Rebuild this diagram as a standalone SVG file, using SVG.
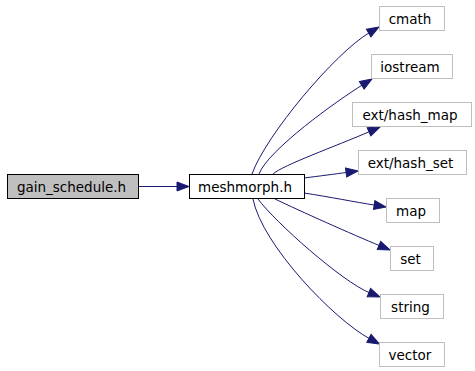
<svg xmlns="http://www.w3.org/2000/svg" width="475" height="371" viewBox="0 0 475 371">
  <style>
    .node rect { stroke-width: 1; }
    .main rect { fill: #bfbfbf; stroke: #000000; }
    .local rect { fill: #ffffff; stroke: #000000; }
    .inc rect { fill: #ffffff; stroke: #bfbfbf; }
    .node text { font-family: "DejaVu Sans", "Bitstream Vera Sans", sans-serif; font-size: 13.5px; fill: #000000; text-anchor: middle; }
    .edge { fill: none; stroke: #191970; stroke-width: 1; marker-end: url(#arrow); }
  </style>
  <defs>
    <marker id="arrow" markerUnits="userSpaceOnUse" markerWidth="13" markerHeight="10" refX="1" refY="5" orient="auto" overflow="visible">
      <path d="M0,0.5 L12,5 L0,9.5 Z" fill="#191970" stroke="#191970" stroke-width="1"/>
    </marker>
  </defs>
  <rect width="475" height="371" fill="#ffffff"/>

  <g id="connectors">
    <path class="edge" d="M139,186.5 L178,186.5"/>
    <path class="edge" d="M252,174 C266,135 335,53 369.5,32.6"/>
    <path class="edge" d="M259,174 C268,150 337,100.7 362.6,84.8"/>
    <path class="edge" d="M273,174 C283,165 335,146.6 369.9,131.4"/>
    <path class="edge" d="M304,178 C320,176 335,174 347.1,172.4"/>
    <path class="edge" d="M304,193 C330,197 355,202 375.2,205.2"/>
    <path class="edge" d="M275,199 C300,211 352.3,234.4 379.9,245.8"/>
    <path class="edge" d="M258,199 C275,222 342,281.6 369.8,292.9"/>
    <path class="edge" d="M253,199 C262,245 334.6,320 369.8,338.8"/>
  </g>

  <g id="node-gain_schedule" class="node main">
    <rect x="7.5" y="174.5" width="131" height="24"/>
    <text x="71.5" y="191.5">gain_schedule.h</text>
  </g>
  <g id="node-meshmorph" class="node local">
    <rect x="189.5" y="174.5" width="115" height="24"/>
    <text x="245" y="191.5">meshmorph.h</text>
  </g>
  <g id="node-cmath" class="node inc">
    <rect x="379.5" y="6.5" width="65" height="24"/>
    <text x="410" y="23.5">cmath</text>
  </g>
  <g id="node-iostream" class="node inc">
    <rect x="371.5" y="54.5" width="81" height="24"/>
    <text x="410" y="71.5">iostream</text>
  </g>
  <g id="node-hash_map" class="node inc">
    <rect x="352.5" y="102.5" width="119" height="24"/>
    <text x="410" y="119.5">ext/hash_map</text>
  </g>
  <g id="node-hash_set" class="node inc">
    <rect x="358.5" y="150.5" width="108" height="24"/>
    <text x="410.5" y="167.5">ext/hash_set</text>
  </g>
  <g id="node-map" class="node inc">
    <rect x="386.5" y="198.5" width="53" height="24"/>
    <text x="411" y="215.5">map</text>
  </g>
  <g id="node-set" class="node inc">
    <rect x="390.5" y="246.5" width="43" height="24"/>
    <text x="410.5" y="263.5">set</text>
  </g>
  <g id="node-string" class="node inc">
    <rect x="380.5" y="294.5" width="63" height="24"/>
    <text x="410.5" y="311.5">string</text>
  </g>
  <g id="node-vector" class="node inc">
    <rect x="379.5" y="342.5" width="65" height="24"/>
    <text x="410" y="359.5">vector</text>
  </g>
</svg>
